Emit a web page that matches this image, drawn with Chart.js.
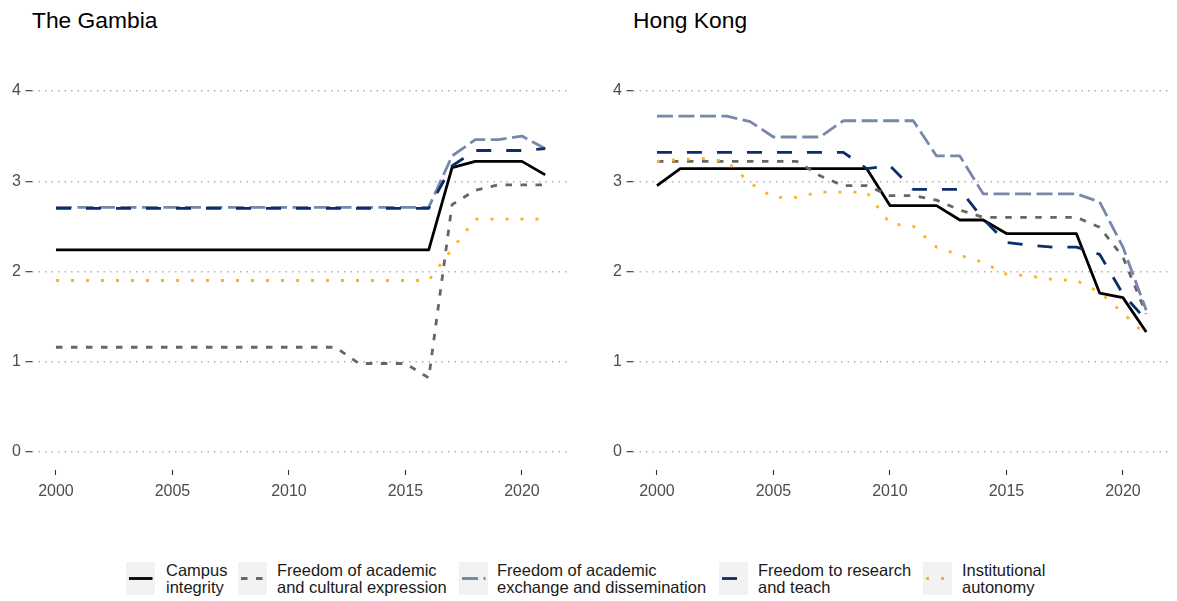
<!DOCTYPE html>
<html>
<head>
<meta charset="utf-8">
<script src="https://cdn.jsdelivr.net/npm/chart.js@4.4.1/dist/chart.umd.min.js"></script>
<style>
  body { margin: 0; background: #fff; font-family: "Liberation Sans", Arial, sans-serif; }
  #wrap { position: relative; width: 1177px; height: 601px; overflow: hidden; }
  .title { position: absolute; top: 9px; font-size: 22.8px; line-height: 22px; color: #000; white-space: nowrap; }
  canvas { position: absolute; top: 0; }
  .key { position: absolute; top: 562px; width: 29px; height: 33px; background: #f2f2f2; }
  .lab { position: absolute; top: 562px; font-size: 16.5px; line-height: 16.5px; color: #1a1a1a; white-space: nowrap; }
</style>
</head>
<body>
<div id="wrap">
  <div class="title" style="left:32px">The Gambia</div>
  <div class="title" style="left:633px">Hong Kong</div>
  <canvas id="gambia" width="588" height="520" style="left:0"></canvas>
  <canvas id="hongkong" width="576" height="520" style="left:601px"></canvas>
  <div id="legend"></div>
</div>
<script>
// years on the x axis
const years = [2000, 2001, 2002, 2003, 2004, 2005, 2006, 2007, 2008, 2009, 2010,
               2011, 2012, 2013, 2014, 2015, 2016, 2017, 2018, 2019, 2020, 2021];
const xTicks = [2000, 2005, 2010, 2015, 2020];
const yTicks = [0, 1, 2, 3, 4];

const seriesNames = [
  "Campus\nintegrity",
  "Freedom of academic\nand cultural expression",
  "Freedom of academic\nexchange and dissemination",
  "Freedom to research\nand teach",
  "Institutional\nautonomy"
];

// The Gambia
const campusGM   = [2.24, 2.24, 2.24, 2.24, 2.24, 2.24, 2.24, 2.24, 2.24, 2.24, 2.24,
                    2.24, 2.24, 2.24, 2.24, 2.24, 2.24, 3.15, 3.22, 3.22, 3.22, 3.07];
const cultureGM  = [1.16, 1.16, 1.16, 1.16, 1.16, 1.16, 1.16, 1.16, 1.16, 1.16, 1.16,
                    1.16, 1.16, 0.98, 0.98, 0.98, 0.82, 2.74, 2.90, 2.96, 2.96, 2.96];
const exchangeGM = [2.71, 2.71, 2.71, 2.71, 2.71, 2.71, 2.71, 2.71, 2.71, 2.71, 2.71,
                    2.71, 2.71, 2.71, 2.71, 2.71, 2.71, 3.28, 3.46, 3.46, 3.50, 3.36];
const researchGM = [2.70, 2.70, 2.70, 2.70, 2.70, 2.70, 2.70, 2.70, 2.70, 2.70, 2.70,
                    2.70, 2.70, 2.70, 2.70, 2.70, 2.70, 3.17, 3.34, 3.34, 3.34, 3.36];
const autonomyGM = [1.90, 1.90, 1.90, 1.90, 1.90, 1.90, 1.90, 1.90, 1.90, 1.90, 1.90,
                    1.90, 1.90, 1.90, 1.90, 1.90, 1.90, 2.25, 2.58, 2.58, 2.58, 2.58];

// Hong Kong
const campusHK   = [2.95, 3.14, 3.14, 3.14, 3.14, 3.14, 3.14, 3.14, 3.14, 3.14, 2.73,
                    2.73, 2.73, 2.57, 2.57, 2.42, 2.42, 2.42, 2.42, 1.76, 1.71, 1.33];
const cultureHK  = [3.22, 3.22, 3.22, 3.22, 3.22, 3.22, 3.22, 3.06, 2.95, 2.95, 2.84,
                    2.84, 2.79, 2.68, 2.60, 2.60, 2.60, 2.60, 2.60, 2.49, 2.16, 1.53];
const exchangeHK = [3.72, 3.72, 3.72, 3.72, 3.66, 3.49, 3.49, 3.49, 3.67, 3.67, 3.67,
                    3.67, 3.28, 3.28, 2.86, 2.86, 2.86, 2.86, 2.86, 2.77, 2.27, 1.57];
const researchHK = [3.32, 3.32, 3.32, 3.32, 3.32, 3.32, 3.32, 3.32, 3.32, 3.14, 3.17,
                    2.91, 2.91, 2.91, 2.58, 2.32, 2.29, 2.27, 2.27, 2.19, 1.75, 1.46];
const autonomyHK = [3.22, 3.24, 3.25, 3.22, 2.98, 2.82, 2.82, 2.88, 2.88, 2.88, 2.53,
                    2.50, 2.27, 2.18, 2.10, 1.97, 1.95, 1.91, 1.90, 1.77, 1.54, 1.29];

// line styles
const lineColors = ["#000000", "#666666", "#7888aa", "#0a2d6b", "#fbb41a"];
const lineDashes = [[], [6.5, 8.5], [16, 5.5], [15, 15], [3, 12]];
const lineWidth = 2.8;

const FONT = '"Liberation Sans", Arial, sans-serif';
Chart.defaults.font.family = FONT;

function makeChart(id, series, padRight) {
  return new Chart(document.getElementById(id), {
    type: 'line',
    data: {
      datasets: series.map((vals, i) => ({
        label: seriesNames[i].replace("\n", " "),
        data: years.map((yr, j) => ({ x: yr, y: vals[j] })),
        borderColor: lineColors[i],
        borderWidth: lineWidth,
        borderDash: lineDashes[i],
        borderCapStyle: 'butt',
        borderJoinStyle: 'round',
        pointRadius: 0,
        tension: 0,
        fill: false,
        order: series.length - 1 - i
      }))
    },
    options: {
      responsive: false,
      animation: false,
      layout: { padding: { left: 0, right: padRight, top: 72.9, bottom: 0 } },
      plugins: { legend: { display: false }, tooltip: { enabled: false } },
      scales: {
        x: {
          type: 'linear',
          min: 1998.95,
          max: 2022.05,
          afterBuildTicks: s => { s.ticks = xTicks.map(v => ({ value: v })); },
          afterFit: s => { s.height = 50; },
          grid: { drawOnChartArea: false, drawTicks: true, tickLength: 5, tickColor: '#333', tickWidth: 1.1 },
          border: { display: false },
          ticks: {
            color: '#4d4d4d', font: { size: 16 }, padding: 7,
            maxRotation: 0, autoSkip: false, callback: v => String(v)
          }
        },
        y: {
          type: 'linear',
          min: -0.2,
          max: 4.2,
          afterBuildTicks: s => { s.ticks = yTicks.map(v => ({ value: v })); },
          afterFit: s => { s.width = 31.5; },
          grid: { color: '#b0b0b0', lineWidth: 1.4, tickLength: 6, tickColor: '#333', tickWidth: 1.1, tickBorderDash: [] },
          border: { display: false, dash: [1.5, 5] },
          ticks: { color: '#4d4d4d', font: { size: 16 }, padding: 4.5, callback: v => String(v) }
        }
      }
    }
  });
}

makeChart('gambia', [campusGM, cultureGM, exchangeGM, researchGM, autonomyGM], 18.3);
makeChart('hongkong', [campusHK, cultureHK, exchangeHK, researchHK, autonomyHK], 6.3);

// legend below both panels
const keyLeft = [126, 238, 459, 719, 923];
const labLeft = [166, 277, 497, 758, 962];
const legend = document.getElementById('legend');
seriesNames.forEach((name, i) => {
  const key = document.createElement('div');
  key.className = 'key';
  key.style.left = keyLeft[i] + 'px';
  key.innerHTML = '<svg width="29" height="33"><line x1="3" y1="16.5" x2="26.5" y2="16.5" stroke="' +
    lineColors[i] + '" stroke-width="' + lineWidth + '" stroke-dasharray="' + lineDashes[i].join(' ') + '"/></svg>';
  legend.appendChild(key);
  const lab = document.createElement('div');
  lab.className = 'lab';
  lab.style.left = labLeft[i] + 'px';
  lab.innerHTML = name.split("\n").join('<br>');
  legend.appendChild(lab);
});
</script>
</body>
</html>
